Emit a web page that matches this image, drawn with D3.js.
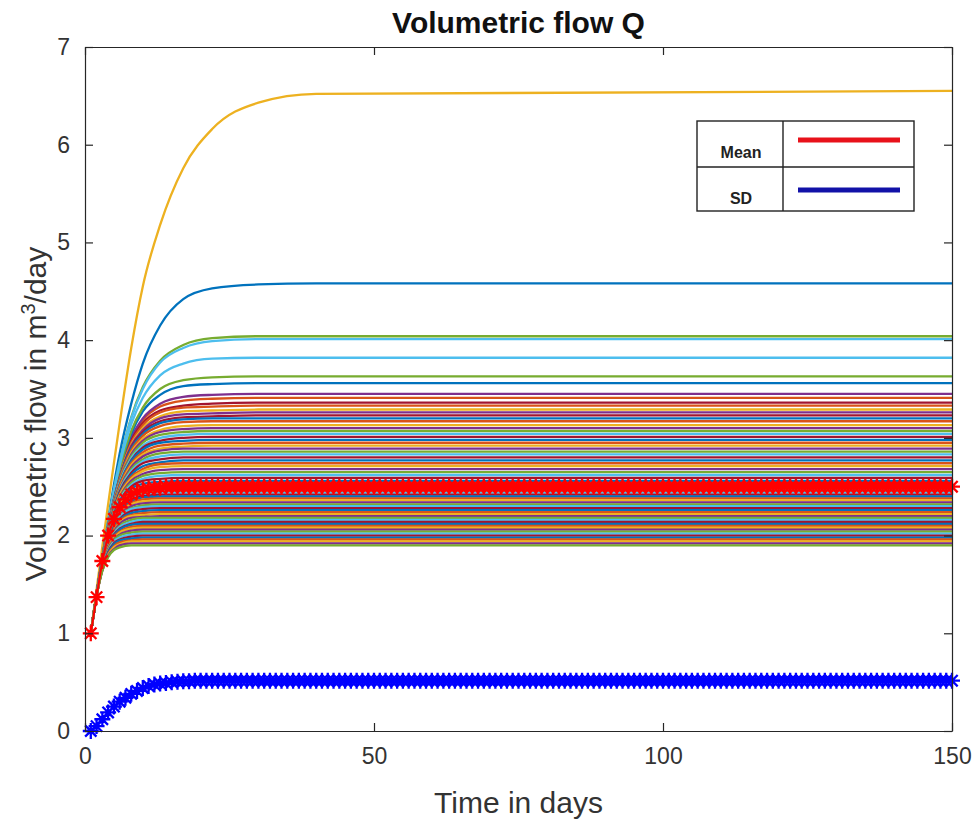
<!DOCTYPE html>
<html><head><meta charset="utf-8">
<script src="https://cdn.jsdelivr.net/npm/d3@7/dist/d3.min.js"></script>
<style>body{margin:0;background:#fff;} svg{display:block;font-family:"Liberation Sans",Arial,Helvetica,sans-serif;}</style>
</head><body><svg id="c" width="979" height="823"></svg>
<script>
// ---- data ----
const days = [1,2,3,4,5,6,8,10,13,17,22,30,40,150];
const runs = [
 [1,1.40,1.79,2.17,2.52,2.84,3.35,3.76,4.15,4.42,4.53,4.57,4.58,4.58],
 [1,1.40,1.77,2.11,2.40,2.64,2.99,3.18,3.32,3.38,3.40,3.41,3.41,3.41],
 [1,1.45,1.89,2.32,2.74,3.15,3.92,4.55,5.18,5.76,6.16,6.43,6.52,6.55],
 [1,1.40,1.77,2.11,2.41,2.65,3.00,3.20,3.35,3.42,3.44,3.45,3.45,3.45],
 [1,1.40,1.78,2.14,2.47,2.75,3.21,3.52,3.79,3.95,4.02,4.04,4.04,4.04],
 [1,1.40,1.78,2.14,2.47,2.75,3.20,3.50,3.77,3.92,3.99,4.01,4.01,4.01],
 [1,1.40,1.77,2.11,2.39,2.63,2.97,3.15,3.28,3.33,3.35,3.36,3.36,3.36],
 [1,1.40,1.78,2.12,2.42,2.67,3.04,3.27,3.44,3.53,3.55,3.56,3.56,3.56],
 [1,1.40,1.77,2.10,2.39,2.62,2.95,3.13,3.26,3.31,3.32,3.33,3.33,3.33],
 [1,1.40,1.77,2.10,2.38,2.61,2.93,3.10,3.22,3.27,3.28,3.29,3.29,3.29],
 [1,1.40,1.77,2.10,2.38,2.60,2.92,3.08,3.20,3.24,3.25,3.26,3.26,3.26],
 [1,1.40,1.78,2.12,2.43,2.69,3.07,3.31,3.50,3.59,3.62,3.63,3.63,3.63],
 [1,1.40,1.78,2.13,2.45,2.72,3.14,3.41,3.64,3.76,3.81,3.82,3.82,3.82],
 [1,1.40,1.77,2.10,2.37,2.59,2.90,3.06,3.17,3.21,3.22,3.23,3.23,3.23],
 [1,1.40,1.77,2.10,2.37,2.59,2.89,3.04,3.15,3.19,3.20,3.20,3.20,3.20],
 [1,1.40,1.77,2.09,2.36,2.58,2.87,3.02,3.12,3.16,3.17,3.17,3.17,3.17],
 [1,1.40,1.77,2.09,2.35,2.56,2.85,2.99,3.08,3.12,3.13,3.13,3.13,3.13],
 [1,1.40,1.77,2.09,2.35,2.56,2.83,2.97,3.06,3.09,3.10,3.10,3.10,3.10],
 [1,1.39,1.76,2.08,2.34,2.55,2.81,2.95,3.03,3.06,3.07,3.07,3.07,3.07],
 [1,1.39,1.76,2.08,2.34,2.54,2.79,2.92,3.00,3.03,3.04,3.04,3.04,3.04],
 [1,1.39,1.76,2.07,2.33,2.52,2.77,2.90,2.97,3.00,3.01,3.01,3.01,3.01],
 [1,1.39,1.76,2.07,2.32,2.52,2.76,2.88,2.95,2.97,2.98,2.98,2.98,2.98],
 [1,1.39,1.76,2.07,2.32,2.51,2.74,2.85,2.92,2.94,2.95,2.95,2.95,2.95],
 [1,1.39,1.76,2.06,2.31,2.49,2.72,2.83,2.89,2.91,2.92,2.92,2.92,2.92],
 [1,1.39,1.75,2.06,2.30,2.48,2.70,2.81,2.87,2.89,2.89,2.89,2.89,2.89],
 [1,1.39,1.75,2.06,2.30,2.47,2.68,2.78,2.84,2.86,2.86,2.86,2.86,2.86],
 [1,1.39,1.75,2.05,2.29,2.46,2.66,2.76,2.81,2.83,2.83,2.83,2.83,2.83],
 [1,1.39,1.75,2.05,2.28,2.45,2.64,2.74,2.78,2.80,2.80,2.80,2.80,2.80],
 [1,1.39,1.75,2.04,2.27,2.43,2.62,2.71,2.75,2.77,2.77,2.77,2.77,2.77],
 [1,1.39,1.75,2.04,2.26,2.42,2.60,2.68,2.73,2.74,2.74,2.74,2.74,2.74],
 [1,1.39,1.74,2.03,2.25,2.41,2.58,2.66,2.70,2.71,2.71,2.71,2.71,2.71],
 [1,1.39,1.74,2.03,2.24,2.39,2.56,2.63,2.67,2.68,2.68,2.68,2.68,2.68],
 [1,1.39,1.74,2.02,2.24,2.38,2.54,2.61,2.64,2.65,2.65,2.65,2.65,2.65],
 [1,1.39,1.74,2.02,2.23,2.37,2.52,2.58,2.61,2.62,2.62,2.62,2.62,2.62],
 [1,1.39,1.74,2.01,2.22,2.35,2.50,2.56,2.58,2.59,2.59,2.59,2.59,2.59],
 [1,1.39,1.74,2.01,2.21,2.34,2.48,2.53,2.55,2.56,2.56,2.56,2.56,2.56],
 [1,1.39,1.73,2.00,2.20,2.32,2.45,2.50,2.52,2.53,2.53,2.53,2.53,2.53],
 [1,1.39,1.73,2.00,2.18,2.31,2.43,2.48,2.49,2.50,2.50,2.50,2.50,2.50],
 [1,1.39,1.73,1.99,2.18,2.29,2.41,2.46,2.47,2.48,2.48,2.48,2.48,2.48],
 [1,1.39,1.73,1.99,2.17,2.28,2.40,2.44,2.45,2.46,2.46,2.46,2.46,2.46],
 [1,1.39,1.73,1.98,2.16,2.27,2.38,2.42,2.44,2.44,2.44,2.44,2.44,2.44],
 [1,1.39,1.73,1.98,2.15,2.26,2.37,2.40,2.42,2.42,2.42,2.42,2.42,2.42],
 [1,1.39,1.72,1.97,2.14,2.25,2.35,2.39,2.40,2.40,2.40,2.40,2.40,2.40],
 [1,1.39,1.72,1.97,2.13,2.24,2.33,2.37,2.38,2.38,2.38,2.38,2.38,2.38],
 [1,1.39,1.72,1.96,2.12,2.22,2.32,2.35,2.36,2.36,2.36,2.36,2.36,2.36],
 [1,1.39,1.72,1.96,2.11,2.21,2.30,2.33,2.34,2.34,2.34,2.34,2.34,2.34],
 [1,1.39,1.71,1.95,2.11,2.20,2.28,2.31,2.32,2.32,2.32,2.32,2.32,2.32],
 [1,1.39,1.71,1.95,2.10,2.19,2.27,2.29,2.30,2.30,2.30,2.30,2.30,2.30],
 [1,1.39,1.71,1.94,2.09,2.17,2.25,2.27,2.28,2.28,2.28,2.28,2.28,2.28],
 [1,1.39,1.71,1.93,2.08,2.16,2.23,2.25,2.26,2.26,2.26,2.26,2.26,2.26],
 [1,1.39,1.70,1.93,2.07,2.15,2.21,2.23,2.24,2.24,2.24,2.24,2.24,2.24],
 [1,1.39,1.70,1.92,2.05,2.13,2.20,2.21,2.22,2.22,2.22,2.22,2.22,2.22],
 [1,1.39,1.70,1.91,2.04,2.12,2.18,2.19,2.20,2.20,2.20,2.20,2.20,2.20],
 [1,1.39,1.70,1.91,2.03,2.10,2.16,2.18,2.18,2.18,2.18,2.18,2.18,2.18],
 [1,1.39,1.69,1.90,2.02,2.09,2.14,2.16,2.16,2.16,2.16,2.16,2.16,2.16],
 [1,1.39,1.69,1.89,2.01,2.07,2.12,2.14,2.14,2.14,2.14,2.14,2.14,2.14],
 [1,1.38,1.68,1.88,2.00,2.06,2.11,2.12,2.12,2.12,2.12,2.12,2.12,2.12],
 [1,1.38,1.68,1.88,1.99,2.04,2.09,2.10,2.10,2.10,2.10,2.10,2.10,2.10],
 [1,1.38,1.68,1.87,1.97,2.03,2.07,2.08,2.08,2.08,2.08,2.08,2.08,2.08],
 [1,1.38,1.67,1.86,1.96,2.01,2.05,2.06,2.06,2.06,2.06,2.06,2.06,2.06],
 [1,1.38,1.67,1.85,1.95,2.00,2.03,2.04,2.04,2.04,2.04,2.04,2.04,2.04],
 [1,1.38,1.67,1.84,1.94,1.98,2.01,2.02,2.02,2.02,2.02,2.02,2.02,2.02],
 [1,1.38,1.66,1.83,1.92,1.96,1.99,2.00,2.00,2.00,2.00,2.00,2.00,2.00],
 [1,1.38,1.66,1.82,1.91,1.95,1.97,1.98,1.98,1.98,1.98,1.98,1.98,1.98],
 [1,1.38,1.65,1.81,1.89,1.93,1.95,1.96,1.96,1.96,1.96,1.96,1.96,1.96],
 [1,1.38,1.65,1.80,1.88,1.91,1.94,1.94,1.94,1.94,1.94,1.94,1.94,1.94],
 [1,1.38,1.64,1.79,1.86,1.90,1.92,1.92,1.92,1.92,1.92,1.92,1.92,1.92],
 [1,1.38,1.64,1.78,1.85,1.88,1.90,1.90,1.90,1.90,1.90,1.90,1.90,1.90]
];
// mean and SD, one value per day (day 1 ... 150)
const meanQ = [
 1.00,1.37,1.74,2.00,2.17,2.29,2.37,2.42,2.45,2.47,
 2.48,2.49,2.49,2.50,2.50,2.50,2.50,2.50,2.50,2.50,
 2.50,2.50,2.50,2.50,2.50,2.50,2.50,2.50,2.50,2.50,
 2.50,2.50,2.50,2.50,2.50,2.50,2.50,2.50,2.50,2.50,
 2.50,2.50,2.50,2.50,2.50,2.50,2.50,2.50,2.50,2.50,
 2.50,2.50,2.50,2.50,2.50,2.50,2.50,2.50,2.50,2.50,
 2.50,2.50,2.50,2.50,2.50,2.50,2.50,2.50,2.50,2.50,
 2.50,2.50,2.50,2.50,2.50,2.50,2.50,2.50,2.50,2.50,
 2.50,2.50,2.50,2.50,2.50,2.50,2.50,2.50,2.50,2.50,
 2.50,2.50,2.50,2.50,2.50,2.50,2.50,2.50,2.50,2.50,
 2.50,2.50,2.50,2.50,2.50,2.50,2.50,2.50,2.50,2.50,
 2.50,2.50,2.50,2.50,2.50,2.50,2.50,2.50,2.50,2.50,
 2.50,2.50,2.50,2.50,2.50,2.50,2.50,2.50,2.50,2.50,
 2.50,2.50,2.50,2.50,2.50,2.50,2.50,2.50,2.50,2.50,
 2.50,2.50,2.50,2.50,2.50,2.50,2.50,2.50,2.50,2.50
];
const sdQ = [
 0.00,0.05,0.12,0.19,0.25,0.30,0.34,0.38,0.41,0.44,
 0.46,0.475,0.485,0.49,0.50,0.505,0.51,0.51,0.515,0.515,
 0.515,0.515,0.515,0.515,0.515,0.515,0.515,0.515,0.515,0.515,
 0.515,0.515,0.515,0.515,0.515,0.515,0.515,0.515,0.515,0.515,
 0.515,0.515,0.515,0.515,0.515,0.515,0.515,0.515,0.515,0.515,
 0.515,0.515,0.515,0.515,0.515,0.515,0.515,0.515,0.515,0.515,
 0.515,0.515,0.515,0.515,0.515,0.515,0.515,0.515,0.515,0.515,
 0.515,0.515,0.515,0.515,0.515,0.515,0.515,0.515,0.515,0.515,
 0.515,0.515,0.515,0.515,0.515,0.515,0.515,0.515,0.515,0.515,
 0.515,0.515,0.515,0.515,0.515,0.515,0.515,0.515,0.515,0.515,
 0.515,0.515,0.515,0.515,0.515,0.515,0.515,0.515,0.515,0.515,
 0.515,0.515,0.515,0.515,0.515,0.515,0.515,0.515,0.515,0.515,
 0.515,0.515,0.515,0.515,0.515,0.515,0.515,0.515,0.515,0.515,
 0.515,0.515,0.515,0.515,0.515,0.515,0.515,0.515,0.515,0.515,
 0.515,0.515,0.515,0.515,0.515,0.515,0.515,0.515,0.515,0.515
];
const xTicks = [0,50,100,150];
const yTicks = [0,1,2,3,4,5,6,7];
const legendLabels = ["Mean","SD"];
const titleText = "Volumetric flow Q";
const xLabel = "Time in days";

// ---- styles ----
const palette = ["#0072BD","#D95319","#EDB120","#7E2F8E","#77AC30","#4DBEEE","#A2142F"];
const axisColor = "#262626";
const L=85, R=952, T=47, B=731;

const svg = d3.select("#c");
svg.append("rect").attr("width",979).attr("height",823).attr("fill","#fff");

const x = d3.scaleLinear().domain([0,150]).range([L,R]);
const y = d3.scaleLinear().domain([0,7]).range([B,T]);

svg.append("defs").append("clipPath").attr("id","clip")
  .append("rect").attr("x",L).attr("y",T).attr("width",R-L).attr("height",B-T);

// runs
const runLine = d3.line().x((d,i)=>x(days[i])).y(d=>y(d)).curve(d3.curveMonotoneX);
svg.append("g").attr("clip-path","url(#clip)")
  .selectAll("path").data(runs).join("path")
  .attr("d",runLine).attr("fill","none")
  .attr("stroke",(d,i)=>palette[i%palette.length])
  .attr("stroke-width",2.3);

// mean & SD with asterisk markers
function asterisk(cx,cy,r){
  const k=r*0.7071;
  return `M${cx-r},${cy}h${2*r}M${cx},${cy-r}v${2*r}M${cx-k},${cy-k}l${2*k},${2*k}M${cx-k},${cy+k}l${2*k},${-2*k}`;
}
function drawStat(vals,color){
  const ln = d3.line().x((d,i)=>x(i+1)).y(d=>y(d));
  const g = svg.append("g");
  g.append("path").attr("d",ln(vals)).attr("fill","none").attr("stroke",color).attr("stroke-width",2);
  g.append("path").attr("d",vals.map((v,i)=>asterisk(x(i+1),y(v),8)).join(""))
    .attr("fill","none").attr("stroke",color).attr("stroke-width",2.3);
}
drawStat(meanQ,"#FF0000");
drawStat(sdQ,"#0000FF");

// axes
const fmt = d3.format("d");
const ax = svg.append("g").attr("transform",`translate(0,${B})`)
  .call(d3.axisBottom(x).tickValues(xTicks).tickFormat(fmt).tickSizeInner(-8).tickSizeOuter(0).tickPadding(17));
const ay = svg.append("g").attr("transform",`translate(${L},0)`)
  .call(d3.axisLeft(y).tickValues(yTicks).tickFormat(fmt).tickSizeInner(-8).tickSizeOuter(0).tickPadding(15));
const axT = svg.append("g").attr("transform",`translate(0,${T})`)
  .call(d3.axisTop(x).tickValues(xTicks).tickSizeInner(-8).tickSizeOuter(0).tickFormat(""));
const ayR = svg.append("g").attr("transform",`translate(${R},0)`)
  .call(d3.axisRight(y).tickValues(yTicks).tickSizeInner(-8).tickSizeOuter(0).tickFormat(""));
[ax,ay,axT,ayR].forEach(g=>{
  g.selectAll(".domain").attr("stroke",axisColor).attr("stroke-width",1.2);
  g.selectAll(".tick line").attr("stroke",axisColor).attr("stroke-width",1.2);
  g.selectAll("text").attr("fill","#333").attr("font-size",23)
   .attr("font-family",'"Liberation Sans",Arial,sans-serif');
});

// title and labels
svg.append("text").attr("x",(L+R)/2).attr("y",33).attr("text-anchor","middle")
  .attr("font-size",30).attr("font-weight","bold").attr("fill","#111").text(titleText);
svg.append("text").attr("x",(L+R)/2).attr("y",813).attr("text-anchor","middle")
  .attr("font-size",30).attr("fill","#333").text(xLabel);
const yl = svg.append("text").attr("transform",`translate(46,414) rotate(-90)`)
  .attr("text-anchor","middle").attr("font-size",30).attr("fill","#333");
yl.append("tspan").text("Volumetric flow in m");
yl.append("tspan").attr("dy",-11).attr("font-size",20).text("3");
yl.append("tspan").attr("dy",11).text("/day");

// legend table
const lg = svg.append("g");
lg.append("rect").attr("x",697).attr("y",121).attr("width",217).attr("height",90)
  .attr("fill","#fff").attr("stroke","#222").attr("stroke-width",1.4);
lg.append("line").attr("x1",783).attr("x2",783).attr("y1",121).attr("y2",211).attr("stroke","#222").attr("stroke-width",1.4);
lg.append("line").attr("x1",697).attr("x2",914).attr("y1",167).attr("y2",167).attr("stroke","#222").attr("stroke-width",1.4);
const legColors = ["#E8121A","#1212A8"];
legendLabels.forEach((lab,i)=>{
  lg.append("text").attr("x",741).attr("y",158+i*46).attr("text-anchor","middle")
    .attr("font-size",16).attr("font-weight","bold").attr("fill","#222").text(lab);
  lg.append("line").attr("x1",798).attr("x2",900).attr("y1",140+i*50).attr("y2",140+i*50)
    .attr("stroke",legColors[i]).attr("stroke-width",5);
});
</script>
</body></html>
